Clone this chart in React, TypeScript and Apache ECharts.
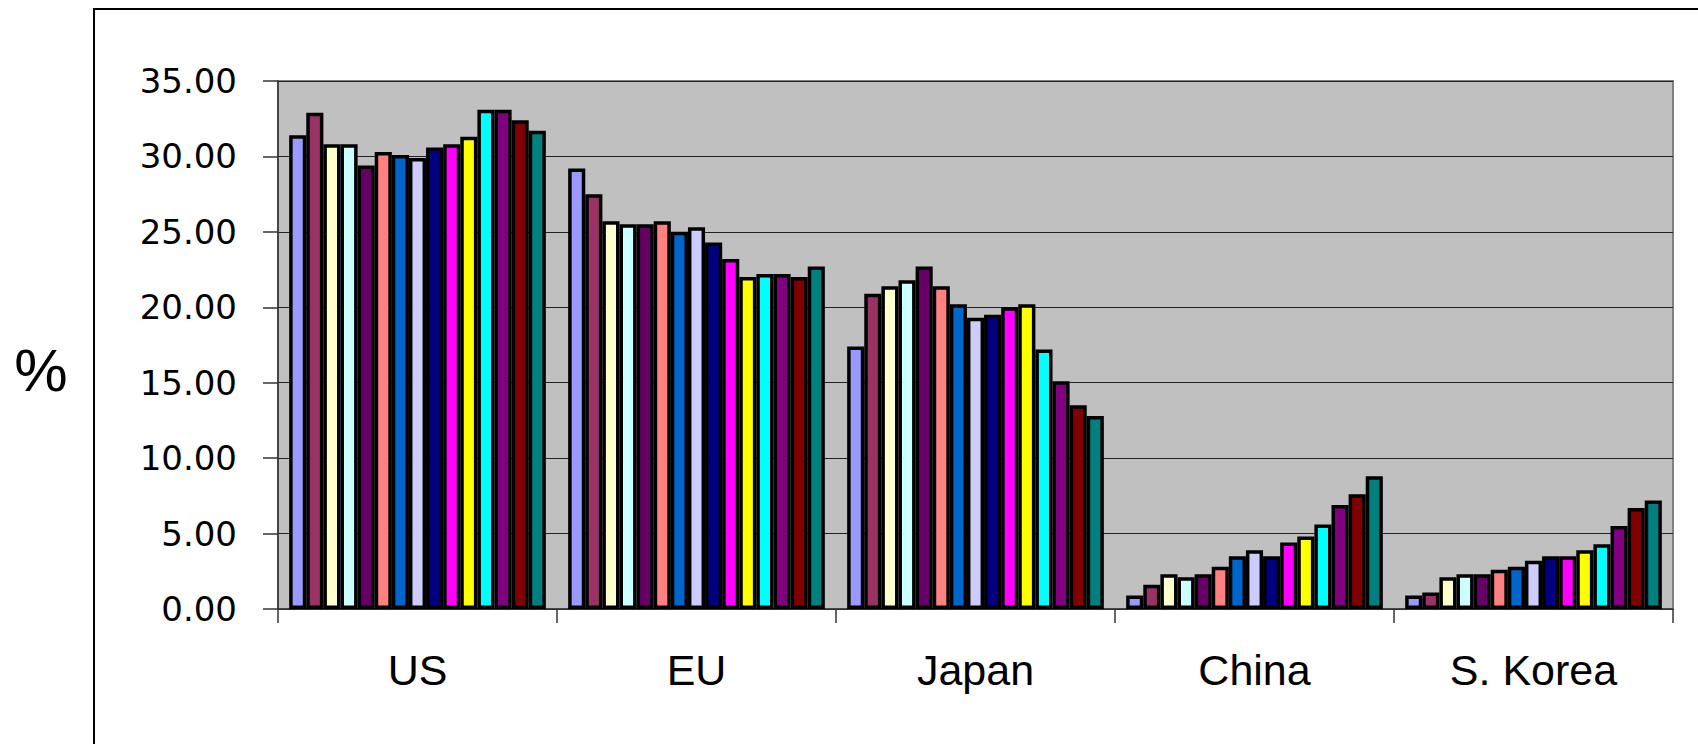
import React, { useEffect, useRef } from "react";
import * as echarts from "echarts";

// Regions along the category axis
const regions = ["US", "EU", "Japan", "China", "S. Korea"];

// Share (%) per region, one value per period (15 periods)
const usShare = [31.4, 32.9, 30.8, 30.8, 29.4, 30.3, 30.1, 29.9, 30.6, 30.8, 31.3, 33.1, 33.1, 32.4, 31.7];
const euShare = [29.2, 27.5, 25.7, 25.5, 25.5, 25.7, 25.0, 25.3, 24.3, 23.2, 22.0, 22.2, 22.2, 22.0, 22.7];
const japanShare = [17.4, 20.9, 21.4, 21.8, 22.7, 21.4, 20.2, 19.3, 19.5, 20.0, 20.2, 17.2, 15.1, 13.5, 12.8];
const chinaShare = [0.9, 1.6, 2.3, 2.1, 2.3, 2.8, 3.5, 3.9, 3.5, 4.4, 4.8, 5.6, 6.9, 7.6, 8.8];
const koreaShare = [0.9, 1.1, 2.1, 2.3, 2.3, 2.6, 2.8, 3.2, 3.5, 3.5, 3.9, 4.3, 5.5, 6.7, 7.2];

// Y axis tick values
const yTicks = [0, 5, 10, 15, 20, 25, 30, 35];

// Classic spreadsheet fill palette, one colour per period
const periodColors = [
  "#9999FF", "#993366", "#FFFFCC", "#CCFFFF", "#660066",
  "#FF8080", "#0066CC", "#CCCCFF", "#000080", "#FF00FF",
  "#FFFF00", "#00FFFF", "#800080", "#800000", "#008080",
];

const byRegion = [usShare, euShare, japanShare, chinaShare, koreaShare];

export default function App() {
  const ref = useRef<HTMLDivElement>(null);

  useEffect(() => {
    document.body.style.margin = "0";
    if (!ref.current) return;
    const chart = echarts.init(ref.current, null, { renderer: "svg" });

    const series = periodColors.map((color, i) => ({
      type: "bar",
      name: `P${i + 1}`,
      data: byRegion.map((arr) => arr[i]),
      barGap: "0%",
      barCategoryGap: "8%",
      itemStyle: { color, borderColor: "#000", borderWidth: 3.5 },
    }));

    chart.setOption({
      animation: false,
      backgroundColor: "#fff",
      grid: {
        left: 278,
        right: 25,
        top: 81,
        bottom: 135,
        show: true,
        backgroundColor: "#C0C0C0",
        borderColor: "#808080",
        borderWidth: 2,
      },
      xAxis: {
        type: "category",
        data: regions,
        axisLine: { lineStyle: { color: "#333", width: 1.5 } },
        axisTick: { show: true, length: 14, interval: 0, lineStyle: { color: "#333", width: 1.5 } },
        axisLabel: {
          color: "#000",
          fontFamily: "Liberation Sans",
          fontSize: 43,
          margin: 39,
          interval: 0,
        },
      },
      yAxis: {
        type: "value",
        min: yTicks[0],
        max: yTicks[yTicks.length - 1],
        interval: 5,
        axisLine: { show: true, lineStyle: { color: "#333", width: 1.5 } },
        axisTick: { show: true, length: 15, lineStyle: { color: "#333", width: 1.5 } },
        splitLine: { show: true, lineStyle: { color: "#222", width: 1 } },
        axisLabel: {
          color: "#000",
          fontFamily: "DejaVu Sans",
          fontSize: 34,
          margin: 41,
          padding: [0, 0, 10, 0],
          formatter: (v: number) => v.toFixed(2),
        },
      },
      graphic: [
        {
          type: "polyline",
          shape: { points: [[94, 760], [94, 9], [1720, 9]] },
          style: { stroke: "#000", lineWidth: 2, fill: null },
          silent: true,
        },
        {
          type: "text",
          x: 41,
          y: 370,
          style: {
            text: "%",
            fill: "#000",
            font: "60px 'Liberation Sans'",
            align: "center",
            verticalAlign: "middle",
          },
        },
      ],
      series,
    });

    return () => chart.dispose();
  }, []);

  return <div ref={ref} style={{ width: 1698, height: 744 }} />;
}
